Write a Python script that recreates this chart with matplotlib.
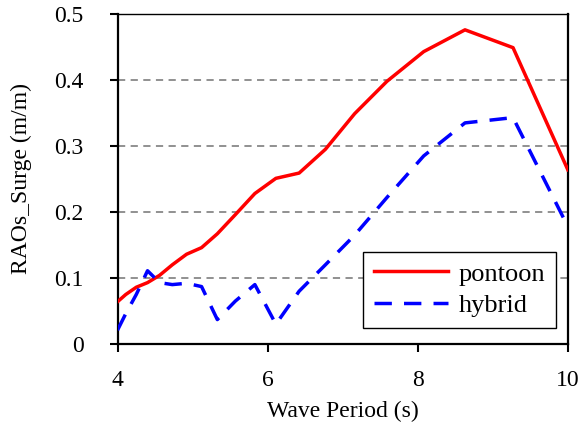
import matplotlib
matplotlib.use("Agg")
import matplotlib.pyplot as plt

# wave periods (s) and surge RAOs (m/m)
period = [4.0, 4.11, 4.25, 4.40, 4.56, 4.73, 4.92, 5.12, 5.33, 5.57,
          5.83, 6.11, 6.42, 6.77, 7.16, 7.59, 8.08, 8.63, 9.27, 10.0]
pontoon = [0.064, 0.075, 0.086, 0.093, 0.104, 0.120, 0.136, 0.146, 0.167, 0.196,
           0.228, 0.251, 0.259, 0.295, 0.349, 0.398, 0.443, 0.476, 0.449, 0.264]
hybrid = [0.021, 0.046, 0.075, 0.111, 0.093, 0.090, 0.092, 0.087, 0.037, 0.065,
          0.090, 0.030, 0.080, 0.120, 0.165, 0.222, 0.285, 0.335, 0.343, 0.178]

xticks = [4, 6, 8, 10]
yticks = [0, 0.1, 0.2, 0.3, 0.4, 0.5]

plt.rcParams['font.family'] = ['Liberation Serif', 'DejaVu Serif']
plt.rcParams['font.size'] = 17

fig = plt.figure(figsize=(5.8, 4.32), dpi=100)
ax = fig.add_axes([0.2026, 0.2037, 0.7764, 0.7639])

for y in yticks[1:]:
    ax.axhline(y, color="#888888", lw=1.3, ls=(0, (4, 3)), zorder=1)

ax.plot(period, pontoon, color="red", lw=2.5, label="pontoon", zorder=3)
ax.plot(period, hybrid, color="blue", lw=2.5, ls=(0, (5, 3.5)), label="hybrid", zorder=3)

ax.set_xlim(4, 10)
ax.set_ylim(0, 0.5)
ax.set_xticks(xticks)
ax.set_yticks(yticks)
ax.set_yticklabels(["0", "0.1", "0.2", "0.3", "0.4", "0.5"])
ax.tick_params(direction="out", length=5.5, width=1.5)
ax.tick_params(axis="x", pad=13)
ax.tick_params(axis="y", pad=19)

for side in ["left", "bottom", "right"]:
    ax.spines[side].set_linewidth(1.6)
ax.spines["top"].set_linewidth(1.0)

ax.set_xlabel("Wave Period (s)", labelpad=7)
ax.set_ylabel("RAOs_Surge (m/m)", labelpad=16)

leg = ax.legend(loc="lower right", bbox_to_anchor=(0.973, 0.05), borderaxespad=0,
                fancybox=False, framealpha=1, edgecolor="black", handlelength=2.8,
                borderpad=0.4, labelspacing=0.3, handletextpad=0.4, fontsize=19)
leg.get_frame().set_linewidth(1.0)

plt.savefig("out.png", dpi=100)
